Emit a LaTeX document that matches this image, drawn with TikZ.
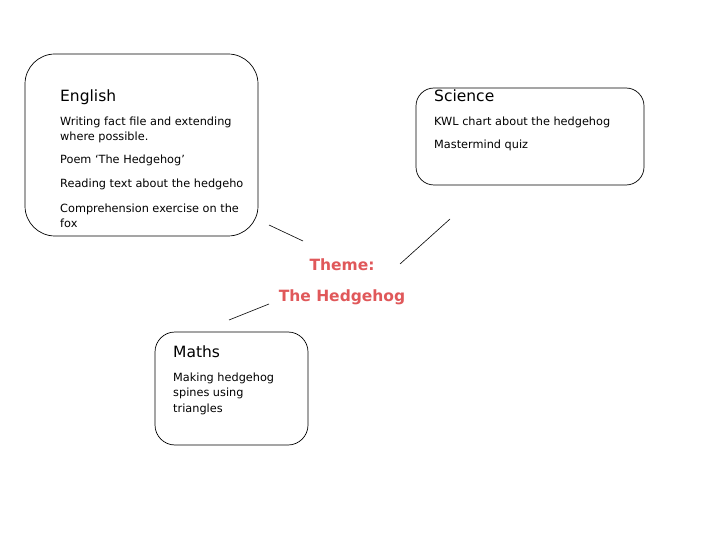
\documentclass[tikz,border=0pt]{standalone}
\usepackage{fontspec}
\setmainfont{DejaVu Sans}
\begin{document}
\begin{tikzpicture}[x=1pt,y=-1pt,
  box/.style={draw=black,line width=0.7pt},
  ttl/.style={anchor=base west,inner sep=0pt,font=\fontsize{15.5}{18}\selectfont},
  txt/.style={anchor=base west,inner sep=0pt,font=\fontsize{11.3}{15}\selectfont,align=left},
  theme/.style={anchor=base,inner sep=0pt,font=\bfseries\fontsize{15.5}{18}\selectfont},
  link/.style={draw=black,line width=0.6pt}]
\definecolor{themered}{HTML}{E0585A}
\useasboundingbox (0,0) rectangle (720,540);
\draw[box,rounded corners=30] (25,54) rectangle (258,236);
\draw[box,rounded corners=18] (416,88) rectangle (644,185);
\draw[box,rounded corners=20] (155,332) rectangle (308,445);
\node[ttl] (eng) at (60,102) {English};
\node[txt] (e1) at (60,126) {Writing fact file and extending};
\node[txt] (e1b) at (60,141) {where possible.};
\node[txt] (e2) at (60,164) {Poem ‘The Hedgehog’};
\node[txt] (e3) at (60,188) {Reading text about the hedgeho};
\node[txt] (e4) at (60,212) {Comprehension exercise on the};
\node[txt] (e4b) at (60,227) {fox};
\node[ttl] (sci) at (434,102) {Science};
\node[txt] (s1) at (434,126) {KWL chart about the hedgehog};
\node[txt] (s2) at (434,149) {Mastermind quiz};
\node[ttl] (mat) at (173,357) {Maths};
\node[txt] (m1) at (173,381) {Making hedgehog};
\node[txt] (m2) at (173,396) {spines using};
\node[txt] (m3) at (173,412) {triangles};
\node[theme,text=themered] (th1) at (342,270) {Theme:};
\node[theme,text=themered] (th2) at (342,301) {The Hedgehog};
\coordinate (a1) at (269,225); \coordinate (a2) at (303,241);
\coordinate (b1) at (400,264); \coordinate (b2) at (450,219);
\coordinate (c1) at (229,320); \coordinate (c2) at (269,304);
\draw[link] (a1) -- (a2);
\draw[link] (b1) -- (b2);
\draw[link] (c1) -- (c2);
\end{tikzpicture}
\end{document}
